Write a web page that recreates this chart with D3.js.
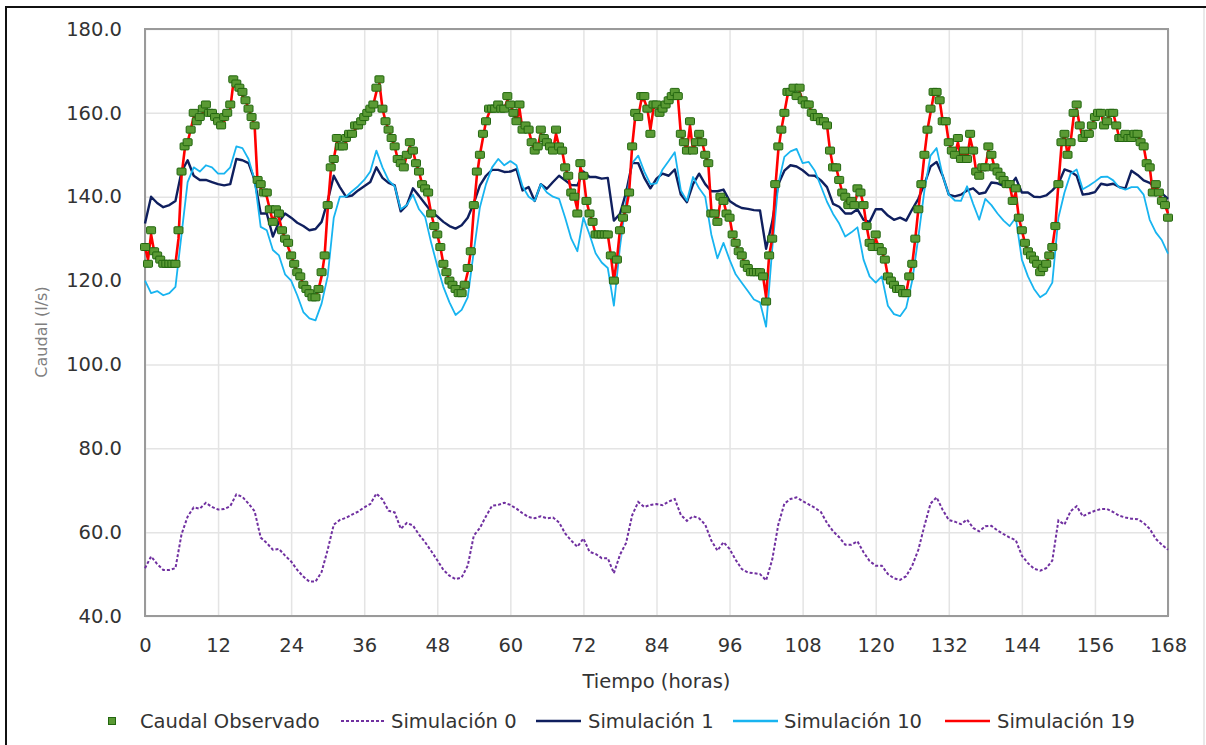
<!DOCTYPE html>
<html>
<head>
<meta charset="utf-8">
<script src="https://cdn.jsdelivr.net/npm/d3@7"></script>
<style>
  body { margin: 0; background: #fff; }
  svg { display: block; }
  text { font-family: "DejaVu Sans", Verdana, sans-serif; }
</style>
</head>
<body>
<svg id="chart" width="1206" height="745"></svg>
<script>
// ---- Data -------------------------------------------------------------
const xTicks = [0, 12, 24, 36, 48, 60, 72, 84, 96, 108, 120, 132, 144, 156, 168];
const yTicks = [40, 60, 80, 100, 120, 140, 160, 180];

// Observed flow, one reading every half hour (0 .. 168 h)
const obsStep = 0.5;
const caudalObservado = [
  128,124,132,127,126,125,124,124,124,124,124,132,146,152,153,156,160,158,159,161,162,160,160,159,
  158,157,159,160,162,168,167,166,165,163,161,159,157,144,143,141,141,137,134,137,136,132,130,129,
  126,124,122,121,119,118,117,116,116,118,122,126,138,147,149,154,152,152,154,155,155,157,157,158,
  159,160,161,162,166,168,161,158,156,154,152,149,148,147,150,153,151,148,146,143,142,141,136,133,
  131,128,124,122,120,119,118,117,117,119,123,127,138,146,150,155,158,161,161,161,162,161,161,164,
  162,160,158,162,156,157,156,153,151,152,156,154,153,152,151,156,152,151,147,145,141,140,136,148,
  145,139,136,134,131,131,131,131,131,126,120,125,132,135,137,141,152,160,159,164,164,161,155,162,
  162,160,161,162,163,164,165,164,155,153,151,158,151,153,155,153,150,148,136,136,134,140,139,136,
  135,131,129,127,126,124,123,122,122,122,122,121,115,126,130,143,152,156,160,165,165,166,164,166,
  163,162,162,160,159,159,158,158,157,151,147,147,144,141,140,138,139,138,142,141,138,133,129,128,
  131,128,127,125,121,120,119,118,118,117,117,121,124,130,137,143,150,156,161,165,165,163,158,158,
  153,151,150,154,149,151,149,155,151,146,145,147,147,152,150,147,146,145,144,143,143,139,142,135,
  132,129,127,126,125,124,122,123,124,126,128,133,143,153,155,150,153,160,162,157,154,155,155,157,
  159,160,160,157,158,160,160,157,154,154,155,154,154,155,155,153,152,148,147,141,143,141,139,138,135
];

// Simulation 19, same half-hour steps
const simulacion19 = [
  128,125,131,127,126,125,124,124,124,124,124,130,145,151,153,156,159,158,159,160,161,160,159,158,
  158,157,158,159,161,167,166,165,164,163,161,159,157,143,142,141,140,137,134,136,135,132,130,128,
  126,124,122,121,119,118,117,116,116,118,121,126,137,146,149,153,152,152,153,154,155,156,157,158,
  159,160,161,162,165,167,161,158,156,154,152,149,148,147,150,152,151,148,146,143,142,140,136,133,
  131,128,124,122,120,119,118,117,117,119,122,127,137,145,150,154,158,160,161,161,162,161,161,163,
  162,160,158,161,156,157,156,153,151,152,155,154,153,152,151,155,152,151,147,145,141,140,137,147,
  145,139,136,134,131,131,131,131,131,126,120,125,132,135,137,141,152,159,159,163,163,161,156,161,
  162,160,161,162,163,164,165,164,155,153,151,157,151,153,155,153,150,148,137,136,134,139,139,136,
  135,131,129,127,126,124,123,122,122,122,122,121,116,126,130,142,151,156,160,164,165,165,164,165,
  163,162,162,160,159,159,158,158,157,151,147,147,144,141,140,138,139,138,141,141,138,133,129,128,
  130,128,127,125,121,120,119,118,118,117,117,121,124,130,137,143,150,156,160,164,165,163,158,158,
  153,151,150,153,149,151,149,154,151,146,145,147,147,151,150,147,146,145,144,143,143,139,141,135,
  132,129,127,126,125,124,122,123,124,126,128,133,143,152,155,150,153,159,161,157,154,155,155,157,
  159,160,160,157,158,160,160,157,154,154,155,154,154,155,155,153,152,148,147,141,143,141,139,138,136
];

// Simulations 0, 1 and 10, hourly (0 .. 168 h)
const simStep = 1;
const simulacion0 = [
  51.4,54.2,52.4,51,51,51.4,59.5,63.7,65.9,65.6,67,66,
  65.4,65.5,66.2,69,68.4,66.8,65,58.7,57.4,55.8,56,54.4,
  53,51,49.4,48.2,48.2,50.5,55.8,61.8,62.9,63.4,64.2,64.9,
  65.9,66.7,69.2,67.8,65.1,64.7,60.8,62.2,61.6,59.4,57.6,55.5,
  53.3,51,49.6,48.8,49.2,52,59.2,61,63.8,66.3,66.5,67,
  66.5,65.6,64.5,63.6,63.3,63.8,63.3,63.5,62.3,59.7,58,56.5,
  58.5,55.3,54.8,53.8,53.8,50.2,54.6,57.4,64,67.2,66,66.5,
  66.7,66.4,67.3,67.9,64.1,62.7,63.8,63.3,61.8,58,55.6,57.6,
  56,53.4,51.2,50.4,50.2,50,48.5,53.4,61.8,66.8,67.9,68.3,
  67.4,66.6,65.8,64.8,62.2,60.2,58.8,57,57,57.8,55.2,53.1,
  52,52,50,49,48.6,49.5,52,55.8,61.5,66.8,68.3,65.3,
  62.9,62.5,61.9,63,61,60.2,61.4,61.5,60.4,59.5,58.7,58.1,
  54.4,52.6,51.3,50.8,51.4,53.2,62.8,61.8,65,66.2,63.8,64.5,
  65.1,65.5,65.5,64.8,63.9,63.5,63.2,63.1,62.2,60.8,58.4,57,55.8
];

const simulacion1 = [
  133.6,140,138.5,137.5,138,139,146,148.7,145,144,144,143.5,
  143,142.7,143,149,148.7,148,144,136,136,130.5,134,136,
  135,133.8,133,132,132.3,134,139,145,142.3,140,140.3,141.5,
  142.5,143.5,147,144.5,143.3,142.7,136.5,138,142,140.2,138.3,136.5,
  135.3,134,133,132.4,133.2,135,138.5,142.7,145,146.4,146.4,145.9,
  146,146.6,141.5,142.3,139,143,141.9,143.5,145,143.9,142.8,142.7,
  146,144.7,144.7,144.3,144.5,134.3,135.9,141,148,148,144.5,142,
  144.3,145.5,145,146.5,140.5,138.7,143,145.5,143,141.3,141.3,141.7,
  139,138,137.3,137.1,136.8,136.7,127.6,134,143,146.2,147.5,147.2,
  146.3,145.1,145,143.9,142.3,138.3,137.6,136,136,137,134.5,134,
  137,137,135.5,134.5,135,134.3,137,139.5,143,147.2,148.3,145,
  140.5,140.1,140.5,141.5,142,140.7,141,143.4,143.2,142.6,142.5,144.5,
  141,141,140,139.9,140.3,141.5,143.1,146.5,146,145,140.5,140.7,
  141.1,143.1,142.8,143.1,142.3,142,146.2,145.2,143.9,143.3,142,140.8,139.5
];

const simulacion10 = [
  120,117,117.5,116.5,117,118.5,131,143.5,147,146,147.5,147,
  145.5,145.5,147,152,151.6,149,144,132.8,132,127.3,126,121.5,
  120,116.5,112.5,111,110.5,114.5,121,135,140,140,141.3,142.5,
  144,146,151,147,143.9,142.5,137,138,140.5,137,135.2,129,
  123.5,118.5,114.8,111.8,113,116,127,137.5,143,147,149,147.5,
  148.5,147.5,142.5,140,139,143,141,140,139.5,135,130,127,
  135,131,126.5,124.3,123,114,128,139,148,149.8,146,143,
  143.2,146.5,148.5,150.6,141.5,139,144.7,142,140,131,125.3,129,
  125,121.5,119.5,117.5,115.5,114.8,109,127.5,143,149.5,150.8,151.4,
  148,148.3,146.2,142.5,138.8,135.9,133.6,130.5,131.5,132.7,125,121,
  119.5,121,114,112,111.5,113.5,120,130.3,141.5,149.8,151.6,145,
  140.5,139.1,139,142.5,138.3,134.5,139.5,138,136,134.3,133,135,
  125,121,118,116,117,119.5,135,141,145.5,146.5,141.8,142.6,
  143.6,144.7,144.8,143.9,142.2,141.7,142.3,142.3,140.5,134.5,131.5,129.6,126.4
];

const legendLabels = ["Caudal Observado", "Simulación 0", "Simulación 1", "Simulación 10", "Simulación 19"];

// ---- Layout -----------------------------------------------------------
const svg = d3.select("#chart");
const plot = { left: 145, top: 29, right: 1168, bottom: 616 };
const fontSize = 19.5;
const colors = {
  obsFill: "#5a9a34", obsStroke: "#22660f",
  sim0: "#7030a0", sim1: "#0f1f5e", sim10: "#18b4f0", sim19: "#ff0000"
};

const x = d3.scaleLinear().domain([0, 168]).range([plot.left, plot.right]);
const y = d3.scaleLinear().domain([40, 180]).range([plot.bottom, plot.top]);

// outer frame
svg.append("rect").attr("x", 0).attr("y", 0).attr("width", 1206).attr("height", 745).attr("fill", "#fff");
svg.append("line").attr("x1", 6).attr("x2", 1206).attr("y1", 7).attr("y2", 7)
  .attr("stroke", "#111").attr("stroke-width", 2);
svg.append("line").attr("x1", 6).attr("x2", 6).attr("y1", 6).attr("y2", 745)
  .attr("stroke", "#111").attr("stroke-width", 2);
svg.append("line").attr("x1", 1204).attr("x2", 1204).attr("y1", 8).attr("y2", 745)
  .attr("stroke", "#e2e2e2").attr("stroke-width", 1.5);

// gridlines + tick labels
const yAxis = svg.append("g").attr("transform", `translate(${plot.left},0)`)
  .call(d3.axisLeft(y).tickValues(yTicks).tickFormat(d3.format(".1f"))
    .tickSize(-(plot.right - plot.left)).tickPadding(23));
yAxis.select(".domain").remove();
yAxis.selectAll(".tick line").attr("stroke", "#e4e4e4").attr("stroke-width", 1.5);
yAxis.selectAll(".tick text").attr("font-size", fontSize).attr("fill", "#333")
  .attr("font-family", "DejaVu Sans, Verdana, sans-serif");

const xAxis = svg.append("g").attr("transform", `translate(0,${plot.bottom})`)
  .call(d3.axisBottom(x).tickValues(xTicks).tickFormat(d3.format("d"))
    .tickSize(-(plot.bottom - plot.top)).tickPadding(0));
xAxis.select(".domain").remove();
xAxis.selectAll(".tick line").attr("stroke", "#e4e4e4").attr("stroke-width", 1.5);
xAxis.selectAll(".tick text").attr("font-size", fontSize).attr("fill", "#333")
  .attr("y", 29).attr("dy", "0.35em")
  .attr("font-family", "DejaVu Sans, Verdana, sans-serif");

// plot border
svg.append("rect").attr("x", plot.left).attr("y", plot.top)
  .attr("width", plot.right - plot.left).attr("height", plot.bottom - plot.top)
  .attr("fill", "none").attr("stroke", "#9a9a9a").attr("stroke-width", 2);

// axis titles
svg.append("text").attr("x", (plot.left + plot.right) / 2).attr("y", 681).attr("dy", "0.35em")
  .attr("text-anchor", "middle").attr("font-size", fontSize).attr("fill", "#333").text("Tiempo (horas)");
svg.append("text").attr("transform", "translate(41,332) rotate(-90)").attr("dy", "0.35em")
  .attr("text-anchor", "middle").attr("font-size", 16).attr("fill", "#7f7f7f").text("Caudal (l/s)");

// ---- Series -----------------------------------------------------------
const lineFor = step => d3.line().x((d, i) => x(i * step)).y(d => y(d));
const series = svg.append("g");

series.append("path").datum(simulacion0).attr("d", lineFor(simStep))
  .attr("fill", "none").attr("stroke", colors.sim0).attr("stroke-width", 2)
  .attr("stroke-dasharray", "3,2");
series.append("path").datum(simulacion1).attr("d", lineFor(simStep))
  .attr("fill", "none").attr("stroke", colors.sim1).attr("stroke-width", 2.4)
  .attr("stroke-linejoin", "round");
series.append("path").datum(simulacion10).attr("d", lineFor(simStep))
  .attr("fill", "none").attr("stroke", colors.sim10).attr("stroke-width", 1.8)
  .attr("stroke-linejoin", "round");
series.append("path").datum(simulacion19).attr("d", lineFor(obsStep))
  .attr("fill", "none").attr("stroke", colors.sim19).attr("stroke-width", 2.6)
  .attr("stroke-linejoin", "round");

series.selectAll("rect.obs").data(caudalObservado).join("rect").attr("class", "obs")
  .attr("x", (d, i) => x(i * obsStep) - 4.5).attr("y", d => y(d) - 3.5)
  .attr("width", 9).attr("height", 7).attr("rx", 1)
  .attr("fill", colors.obsFill).attr("stroke", colors.obsStroke).attr("stroke-width", 1);

// ---- Legend -----------------------------------------------------------
const legend = svg.append("g").attr("font-size", fontSize).attr("fill", "#333");
const ly = 721;
legend.append("rect").attr("x", 108.5).attr("y", ly - 3.5).attr("width", 7).attr("height", 7)
  .attr("fill", colors.obsFill).attr("stroke", colors.obsStroke).attr("stroke-width", 1);
legend.append("text").attr("x", 140).attr("y", ly).attr("dy", "0.35em").text(legendLabels[0]);

const legendLines = [
  { x0: 341, tx: 391, color: colors.sim0, dash: "3,2", w: 2 },
  { x0: 536, tx: 588, color: colors.sim1, dash: null, w: 2.6 },
  { x0: 733, tx: 784, color: colors.sim10, dash: null, w: 2.6 },
  { x0: 945, tx: 997, color: colors.sim19, dash: null, w: 2.6 }
];
legendLines.forEach((d, i) => {
  legend.append("line").attr("x1", d.x0).attr("x2", d.x0 + 45).attr("y1", ly).attr("y2", ly)
    .attr("stroke", d.color).attr("stroke-width", d.w).attr("stroke-dasharray", d.dash);
  legend.append("text").attr("x", d.tx).attr("y", ly).attr("dy", "0.35em").text(legendLabels[i + 1]);
});
</script>
</body>
</html>
